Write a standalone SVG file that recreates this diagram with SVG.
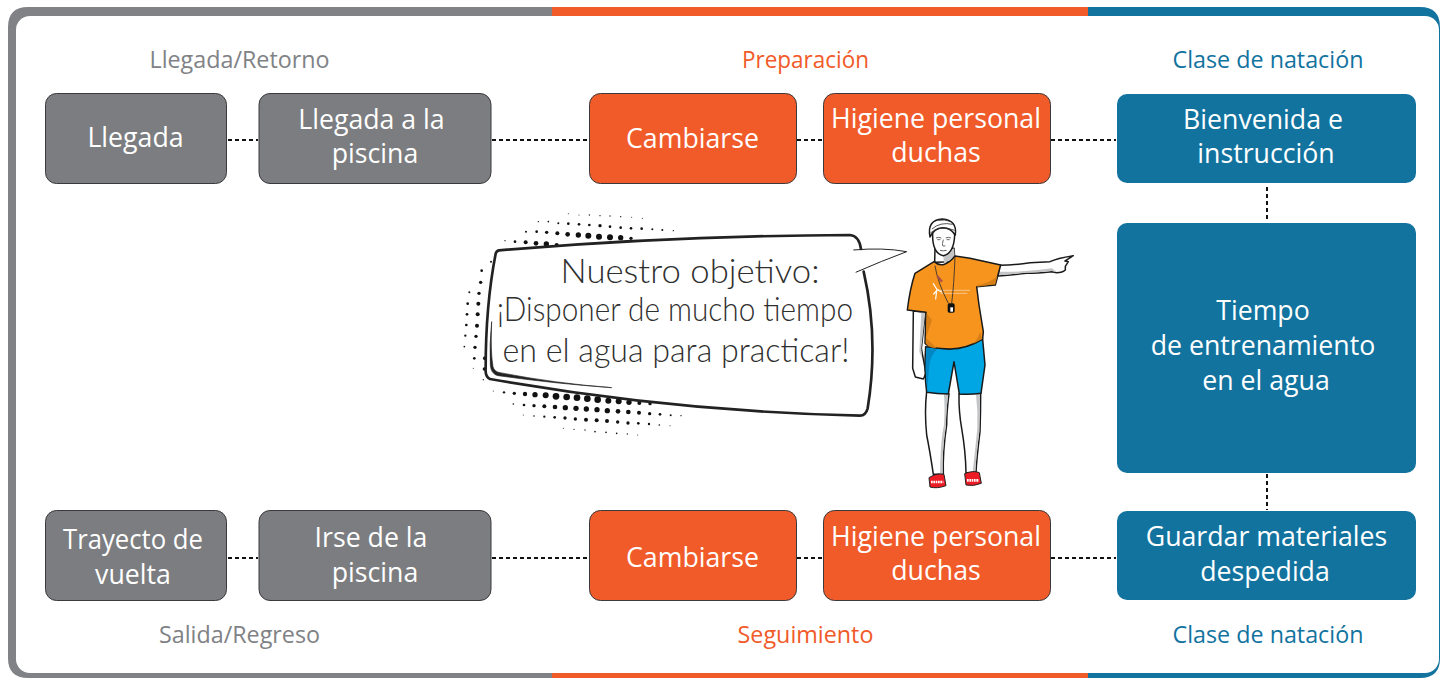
<svg xmlns="http://www.w3.org/2000/svg" width="1440" height="678" viewBox="0 0 1440 678">
<style>
.box{stroke:#3a3a3c;stroke-width:1}
.gray{fill:#7b7d80}.orange{fill:#f15a29}.blue{fill:#12739f}
.t{font-family:"Open Sans","Noto Sans",sans-serif;font-size:26.700px;fill:#fff;text-anchor:middle}
.h{font-family:"Open Sans","Noto Sans",sans-serif;font-size:23.300px;text-anchor:middle}
.link{fill:none;stroke:#111;stroke-width:2;stroke-dasharray:4 3}
.hand{font-family:"Lato","Open Sans",sans-serif;font-weight:300;font-size:33px;fill:#2f2f2f;text-anchor:middle}
.ink{stroke:#1a1a1a;stroke-width:4.500;stroke-linejoin:round;stroke-linecap:round}
.shade{fill:#c4c5c7}
</style>
<rect width="1440" height="678" fill="#fff"/>
<g id="frame">
<path d="M552 7H28Q8 7 8 27V658Q8 678 28 678H552Z" fill="#808285"/>
<rect x="552" y="7" width="536" height="671" fill="#f15a29"/>
<path d="M1088 7H1420Q1440 7 1440 27V658Q1440 678 1420 678H1088Z" fill="#12739f"/>
<rect x="16" y="16" width="1423" height="657" rx="14" fill="#fff"/>
</g>
<g id="connectors">
<path class="link" d="M228 140H258M492 140H589M797 140H823M1051 140H1116M228 558H258M492 558H589M797 558H823M1051 558H1116M1267 187V222M1267 474V510"/>
</g>
<g id="n1"><rect class="box gray" x="45.500" y="93.500" width="181" height="90" rx="11"/><text class="t" x="135.500" y="147">Llegada</text></g>
<g id="n2"><rect class="box gray" x="259" y="93.500" width="232" height="90" rx="11"/><text class="t" x="371.500" y="129">Llegada a la</text><text class="t" x="375" y="163">piscina</text></g>
<g id="n3"><rect class="box orange" x="589.500" y="93.500" width="207" height="90" rx="11"/><text class="t" x="692.500" y="148">Cambiarse</text></g>
<g id="n4"><rect class="box orange" x="823.500" y="93.500" width="227" height="90" rx="11"/><text class="t" x="936" y="128">Higiene personal</text><text class="t" x="936" y="162">duchas</text></g>
<g id="n5"><rect class="blue" x="1117" y="94" width="299" height="89" rx="10"/><text class="t" x="1263" y="129">Bienvenida e</text><text class="t" x="1266" y="163">instrucción</text></g>
<g id="n6"><rect class="blue" x="1117" y="223" width="299" height="250" rx="10"/><text class="t" x="1263" y="320">Tiempo</text><text class="t" x="1263" y="355">de entrenamiento</text><text class="t" x="1266" y="390">en el agua</text></g>
<g id="n7"><rect class="blue" x="1117" y="511" width="299" height="89" rx="10"/><text class="t" x="1266.500" y="546">Guardar materiales</text><text class="t" x="1265" y="581">despedida</text></g>
<g id="n8"><rect class="box orange" x="823.500" y="510.500" width="227" height="90" rx="11"/><text class="t" x="936" y="546">Higiene personal</text><text class="t" x="936" y="580">duchas</text></g>
<g id="n9"><rect class="box orange" x="589.500" y="510.500" width="207" height="90" rx="11"/><text class="t" x="692.500" y="567">Cambiarse</text></g>
<g id="n10"><rect class="box gray" x="259" y="510.500" width="232" height="90" rx="11"/><text class="t" x="371" y="547">Irse de la</text><text class="t" x="375" y="582">piscina</text></g>
<g id="n11"><rect class="box gray" x="45.500" y="510.500" width="181" height="90" rx="11"/><text class="t" x="133" y="549" textLength="140" lengthAdjust="spacingAndGlyphs">Trayecto de</text><text class="t" x="133" y="584">vuelta</text></g>
<g id="headings">
<text class="h" x="239.500" y="68" fill="#808285">Llegada/Retorno</text>
<text class="h" x="805.500" y="68" fill="#f15a29" textLength="127" lengthAdjust="spacingAndGlyphs">Preparación</text>
<text class="h" x="1268" y="68" fill="#12739f">Clase de natación</text>
<text class="h" x="239.500" y="643" fill="#808285">Salida/Regreso</text>
<text class="h" x="805.500" y="643" fill="#f15a29">Seguimiento</text>
<text class="h" x="1268" y="643" fill="#12739f">Clase de natación</text>
</g>
<g id="speech" transform="translate(455 205) scale(.33333)">
<g id="halftone" fill="#111">
<circle cx="310" cy="55" r="3"/><circle cx="340" cy="56" r="4"/><circle cx="372" cy="58" r="4"/><circle cx="403" cy="60" r="4"/><circle cx="435" cy="62" r="5"/><circle cx="465" cy="65" r="4"/><circle cx="497" cy="68" r="4"/><circle cx="528" cy="70" r="4"/><circle cx="560" cy="71" r="4"/><circle cx="592" cy="73" r="3"/><circle cx="622" cy="75" r="3"/><circle cx="655" cy="77" r="2"/>
<circle cx="213" cy="80" r="3"/><circle cx="245" cy="80" r="4"/><circle cx="275" cy="82" r="5"/><circle cx="307" cy="85" r="6"/><circle cx="338" cy="88" r="7"/><circle cx="370" cy="90" r="8"/><circle cx="400" cy="92" r="9"/><circle cx="432" cy="95" r="9"/><circle cx="465" cy="97" r="9"/><circle cx="497" cy="98" r="8"/><circle cx="528" cy="100" r="5"/>
<circle cx="150" cy="107" r="2"/><circle cx="180" cy="110" r="4"/><circle cx="212" cy="112" r="6"/><circle cx="243" cy="115" r="7"/><circle cx="274" cy="117" r="8"/><circle cx="305" cy="120" r="6"/>
<circle cx="250" cy="50" r="2"/><circle cx="280" cy="50" r="2.500"/><circle cx="340" cy="26" r="1.500"/><circle cx="372" cy="30" r="1.500"/><circle cx="403" cy="30" r="2"/><circle cx="435" cy="32" r="2"/><circle cx="465" cy="33" r="2"/><circle cx="497" cy="35" r="2"/><circle cx="530" cy="37" r="1.500"/><circle cx="562" cy="40" r="1.500"/>
<circle cx="108" cy="170" r="3"/><circle cx="80" cy="197" r="4"/><circle cx="77" cy="232" r="5"/><circle cx="72" cy="265" r="5"/><circle cx="70" cy="296" r="6"/><circle cx="68" cy="328" r="6"/><circle cx="66" cy="362" r="6"/><circle cx="63" cy="394" r="5"/><circle cx="60" cy="427" r="5"/><circle cx="58" cy="460" r="4"/><circle cx="88" cy="492" r="5"/><circle cx="90" cy="460" r="6"/>
<circle cx="43" cy="262" r="3"/><circle cx="38" cy="296" r="4"/><circle cx="36" cy="328" r="4"/><circle cx="34" cy="360" r="4"/><circle cx="31" cy="392" r="3.500"/><circle cx="28" cy="425" r="2.500"/><circle cx="55" cy="490" r="1.500"/><circle cx="85" cy="524" r="2"/>
<circle cx="115" cy="558" r="1.500"/><circle cx="147" cy="562" r="3.500"/><circle cx="178" cy="565" r="5"/><circle cx="210" cy="567" r="6.500"/><circle cx="240" cy="569" r="8"/><circle cx="272" cy="571" r="9"/><circle cx="303" cy="574" r="10"/><circle cx="335" cy="576" r="10"/><circle cx="366" cy="578" r="10"/><circle cx="397" cy="581" r="10"/><circle cx="428" cy="584" r="10"/><circle cx="460" cy="587" r="9"/><circle cx="491" cy="589" r="9"/><circle cx="522" cy="592" r="8"/><circle cx="553" cy="594" r="6"/><circle cx="585" cy="596" r="5"/>
<circle cx="175" cy="597" r="2.500"/><circle cx="207" cy="600" r="4"/><circle cx="237" cy="602" r="5"/><circle cx="268" cy="604" r="6"/><circle cx="300" cy="606" r="7"/><circle cx="331" cy="608" r="8"/><circle cx="363" cy="610" r="8"/><circle cx="394" cy="612" r="8"/><circle cx="426" cy="614" r="8"/><circle cx="457" cy="617" r="8"/><circle cx="489" cy="619" r="7"/><circle cx="520" cy="621" r="7"/><circle cx="552" cy="623" r="6"/><circle cx="584" cy="626" r="5"/><circle cx="615" cy="628" r="4"/><circle cx="647" cy="631" r="3"/><circle cx="678" cy="632" r="2"/>
<circle cx="205" cy="630" r="1.500"/><circle cx="237" cy="633" r="2.500"/><circle cx="268" cy="635" r="3.500"/><circle cx="299" cy="637" r="4"/><circle cx="330" cy="639" r="5"/><circle cx="361" cy="642" r="5"/><circle cx="393" cy="644" r="6"/><circle cx="425" cy="646" r="6"/><circle cx="456" cy="648" r="6"/><circle cx="488" cy="651" r="5"/><circle cx="519" cy="654" r="5"/><circle cx="550" cy="655" r="4"/><circle cx="582" cy="657" r="3.500"/><circle cx="613" cy="660" r="2.500"/><circle cx="645" cy="662" r="1.500"/>
<circle cx="325" cy="670" r="1.500"/><circle cx="357" cy="673" r="2"/><circle cx="390" cy="675" r="2"/><circle cx="420" cy="680" r="2.500"/><circle cx="453" cy="682" r="2.500"/><circle cx="485" cy="685" r="2.500"/><circle cx="517" cy="687" r="2"/><circle cx="548" cy="690" r="1.500"/>
</g>
<!-- balloon body and tail fill, then its separate outlines -->
<path d="M132 136Q660 92 1185 90Q1212 92 1218 132Q1290 127 1355 140Q1280 168 1226 200Q1272 400 1238 610Q1232 632 1215 632Q660 620 105 522Q90 515 92 490Q92 300 122 146Q124 138 132 136Z" fill="#fff"/>
<path d="M1218 132Q1212 92 1185 90Q660 92 132 136Q124 138 122 146Q92 300 92 490Q90 515 105 522Q660 620 1215 632Q1232 632 1238 610Q1272 400 1226 200" fill="none" stroke="#222" stroke-width="8" stroke-linecap="round"/>
<path d="M1195 135Q1285 127 1355 140Q1280 168 1202 202" fill="none" stroke="#222" stroke-width="3"/>
<path d="M110 350Q106 440 114 485Q118 500 135 503Q300 535 470 548Q290 535 130 512Q108 508 106 480Q103 420 110 350Z" fill="#222" stroke="#222" stroke-width="2"/>
</g>
<g id="speech-text">
<text class="hand" x="690" y="283" textLength="259" lengthAdjust="spacingAndGlyphs">Nuestro objetivo:</text>
<text class="hand" x="675" y="321" textLength="356" lengthAdjust="spacingAndGlyphs">¡Disponer de mucho tiempo</text>
<text class="hand" x="676" y="362" textLength="347" lengthAdjust="spacingAndGlyphs">en el agua para practicar!</text>
</g>
<g id="instructor" transform="translate(880 205) scale(.33333)">
<!-- pointing arm -->
<path class="ink" d="M358 181Q400 181 450 173L510 170Q530 160 580 152Q565 162 555 168L565 170L556 184L556 195Q548 203 530 203L515 200Q470 205 440 205Q395 210 355 213Z" fill="#fff"/>
<path class="shade" d="M358 200Q440 202 515 190L530 200L515 198Q470 203 440 203Q395 208 356 211Z"/>
<!-- hanging arm -->
<path class="ink" d="M100 318L136 322L124 430L138 505L130 522L106 516L98 490Z" fill="#fff"/>
<path class="shade" d="M124 322L136 322L124 430L126 460L118 440Z"/>
<!-- legs -->
<path class="ink" d="M140 560Q133 620 140 690Q150 740 160 808L190 808Q188 740 200 660Q200 620 207 566Z" fill="#fff"/>
<path class="ink" d="M237 566Q236 620 245 670Q257 740 258 803L288 803Q290 760 300 680Q302 620 302 562Z" fill="#fff"/>
<path class="shade" d="M192 570L205 568Q198 620 198 660Q186 740 188 806L180 806Q182 700 192 660Q195 610 192 570ZM288 568L300 564Q300 620 298 680Q288 760 286 800L278 800Q285 740 292 670Q294 620 288 568Z"/>
<!-- shorts -->
<path class="ink" d="M137 425L210 432L308 403L315 480L303 565Q270 570 238 567L222 470L205 567Q170 567 140 562Q132 500 137 425Z" fill="#00a6e4"/>
<path d="M140 430L172 433Q152 450 148 480L142 552Q133 490 140 430Z" fill="#0387c2"/>
<!-- neck -->
<path class="ink" d="M165 130L164 172L225 170L222 130Z" fill="#fff"/>
<path class="shade" d="M190 152L222 130L224 152L192 178Z"/>
<!-- shirt -->
<path class="ink" d="M162 170Q190 195 225 153L270 160L362 180L346 240L290 245L297 300L310 380L308 402Q260 432 210 432Q150 432 135 415L138 322L82 315Q90 250 105 205Z" fill="#f7941d"/>
<path d="M290 245L346 238L352 212Q330 235 292 240ZM140 325L156 345L138 398L170 430Q145 428 137 415ZM300 380L307 402L280 416Q295 400 300 380Z" fill="#d67f17"/>
<path d="M160 236L170 252L186 262L172 254L160 268L170 258L167 282" fill="none" stroke="#fff" stroke-width="3.500" stroke-linecap="round"/>
<path d="M178 256H270M182 265H262" stroke="#f6c68c" stroke-width="3"/>
<!-- lanyard and whistle -->
<path d="M165 182Q172 230 205 295M225 155Q222 240 215 295" fill="none" stroke="#2a2a2a" stroke-width="2.500"/>
<path d="M172 214L186 230" stroke="#a9504a" stroke-width="7"/>
<rect x="203" y="295" width="21" height="28" rx="5" fill="#111"/><rect x="211" y="307" width="8" height="13" fill="#fff"/>
<!-- head and swim cap -->
<path class="ink" d="M158 85Q156 145 190 152Q222 145 224 90Q222 60 190 60Q158 60 158 85Z" fill="#fff"/>
<path class="ink" d="M150 96Q140 45 187 42Q232 45 226 90Q212 68 188 68Q162 70 150 96Z" fill="#fff"/>
<path d="M156 72Q180 50 218 58M151 84Q180 58 224 76M175 46Q195 42 212 50" fill="none" stroke="#333" stroke-width="2.500"/>
<path d="M168 99Q176 95 184 99M197 99Q205 95 213 99M172 104H181M200 104H209M190 104Q186 118 188 122Q192 125 196 122M180 136Q190 139 200 136" fill="none" stroke="#444" stroke-width="2.500"/>
<!-- sandals -->
<path d="M147 818Q170 803 192 808L198 842Q170 852 150 846Z" fill="#ed1c24" stroke="#222" stroke-width="3"/>
<path d="M254 806Q280 795 298 803L304 835Q280 845 258 840Z" fill="#ed1c24" stroke="#222" stroke-width="3"/>
<path d="M153 831H190M261 826H297" stroke="#fff" stroke-width="8" stroke-dasharray="5 2"/>
</g>
</svg>
